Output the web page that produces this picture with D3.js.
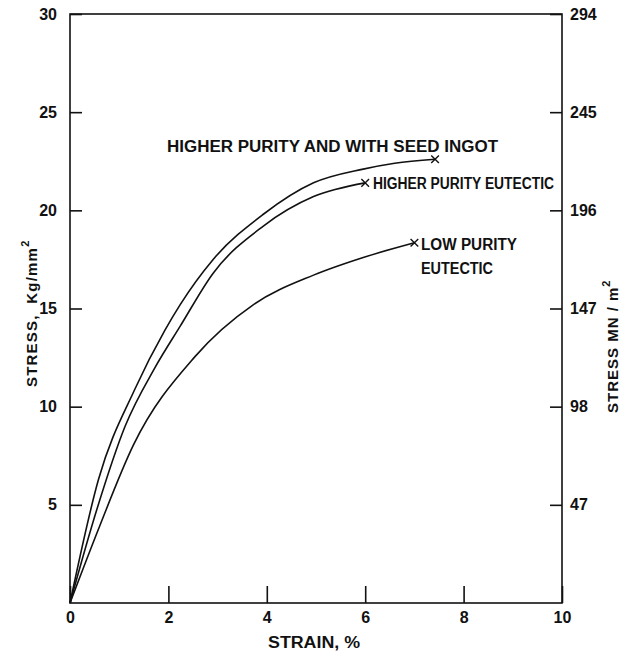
<!DOCTYPE html>
<html>
<head>
<meta charset="utf-8">
<script src="https://cdn.jsdelivr.net/npm/d3@7"></script>
<style>
  html, body { margin: 0; padding: 0; background: #fff; }
  svg text { font-family: "Liberation Sans", Arial, sans-serif; font-weight: bold; fill: #111; }
</style>
</head>
<body>
<svg id="chart" width="627" height="656"></svg>
<script>
// Stress–strain curves: strain (%) vs stress (kg/mm²)
const seedIngot = [
  [0, 0], [0.58, 6.3], [1.32, 10.9], [1.93, 13.9], [2.24, 15.2], [2.91, 17.5],
  [3.93, 19.8], [4.95, 21.4], [5.96, 22.1], [6.6, 22.4], [7.42, 22.6]
];
const higherPurity = [
  [0, 0], [0.55, 4.8], [1.12, 9.0], [1.73, 12.0], [2.24, 14.1], [2.91, 16.8],
  [3.93, 19.2], [4.95, 20.7], [6.0, 21.4]
];
const lowPurity = [
  [0, 0], [0.6, 3.9], [1.29, 8.05], [2.54, 12.55], [3.73, 15.2], [4.95, 16.7],
  [5.96, 17.6], [7.0, 18.35]
];

const xTicks = [0, 2, 4, 6, 8, 10];
const yTicks = [5, 10, 15, 20, 25, 30];
const yTicksMN = ["47", "98", "147", "196", "245", "294"];

(function () {
  const svg = d3.select("#chart");
  const mLeft = 70, mRight = 562, mTop = 14, mBottom = 603;

  const x = d3.scaleLinear().domain([0, 10]).range([mLeft, mRight]);
  const y = d3.scaleLinear().domain([0, 30]).range([mBottom, mTop]);

  const ink = "#111";
  const lw = 1.6;

  // frame
  svg.append("rect")
    .attr("x", mLeft).attr("y", mTop)
    .attr("width", mRight - mLeft).attr("height", mBottom - mTop)
    .attr("fill", "none").attr("stroke", ink).attr("stroke-width", lw);

  function styleAxis(g) {
    g.select(".domain").remove();
    g.selectAll(".tick line").attr("stroke", ink).attr("stroke-width", lw);
    g.selectAll(".tick text").attr("font-size", 16).attr("fill", ink)
      .attr("font-family", "Liberation Sans, Arial, sans-serif").attr("font-weight", "bold");
  }

  svg.append("g")
    .attr("transform", `translate(0,${mBottom})`)
    .call(d3.axisBottom(x).tickValues(xTicks).tickSize(-17).tickPadding(9).tickFormat(d3.format("d")))
    .call(styleAxis);

  svg.append("g")
    .attr("transform", `translate(${mLeft},0)`)
    .call(d3.axisLeft(y).tickValues(yTicks).tickSize(-12).tickPadding(13).tickFormat(d3.format("d")))
    .call(styleAxis);

  svg.append("g")
    .attr("transform", `translate(${mRight},0)`)
    .call(d3.axisRight(y).tickValues(yTicks).tickSize(-12).tickPadding(8)
      .tickFormat((d, i) => yTicksMN[i]))
    .call(styleAxis);

  // curves
  const line = d3.line().x(d => x(d[0])).y(d => y(d[1])).curve(d3.curveMonotoneX);
  const series = [seedIngot, higherPurity, lowPurity];
  svg.append("g").selectAll("path").data(series).join("path")
    .attr("d", line)
    .attr("fill", "none").attr("stroke", ink).attr("stroke-width", lw);

  // end-of-test markers
  const mark = d3.symbol().type(d3.symbolX).size(40);
  svg.append("g").selectAll("path").data(series.map(s => s[s.length - 1])).join("path")
    .attr("transform", d => `translate(${x(d[0])},${y(d[1])})`)
    .attr("d", mark)
    .attr("fill", "none").attr("stroke", ink).attr("stroke-width", 1.4);

  // curve labels
  const labels = [
    { t: "HIGHER PURITY AND WITH SEED INGOT", x: 167, y: 152, w: 331 },
    { t: "HIGHER PURITY EUTECTIC", x: 373, y: 189, w: 181 },
    { t: "LOW PURITY", x: 421, y: 250, w: 96 },
    { t: "EUTECTIC", x: 421, y: 274, w: 72 }
  ];
  svg.append("g").selectAll("text").data(labels).join("text")
    .attr("x", d => d.x).attr("y", d => d.y)
    .attr("font-size", 16)
    .attr("textLength", d => d.w).attr("lengthAdjust", "spacingAndGlyphs")
    .text(d => d.t);

  // axis titles
  svg.append("text")
    .attr("x", 268).attr("y", 648)
    .attr("font-size", 16).attr("textLength", 92).attr("lengthAdjust", "spacingAndGlyphs")
    .text("STRAIN, %");

  const yTitle = svg.append("text")
    .attr("transform", "translate(37,387) rotate(-90)")
    .attr("font-size", 15).attr("letter-spacing", 1.2);
  yTitle.append("tspan").text("STRESS,\u00A0\u00A0Kg/mm");
  yTitle.append("tspan").attr("font-size", 11).attr("dy", -8).text("2");

  const y2Title = svg.append("text")
    .attr("transform", "translate(618,413) rotate(-90)")
    .attr("font-size", 15).attr("letter-spacing", 1.0);
  y2Title.append("tspan").text("STRESS MN / m");
  y2Title.append("tspan").attr("font-size", 11).attr("dy", -8).text("2");
})();
</script>
</body>
</html>
